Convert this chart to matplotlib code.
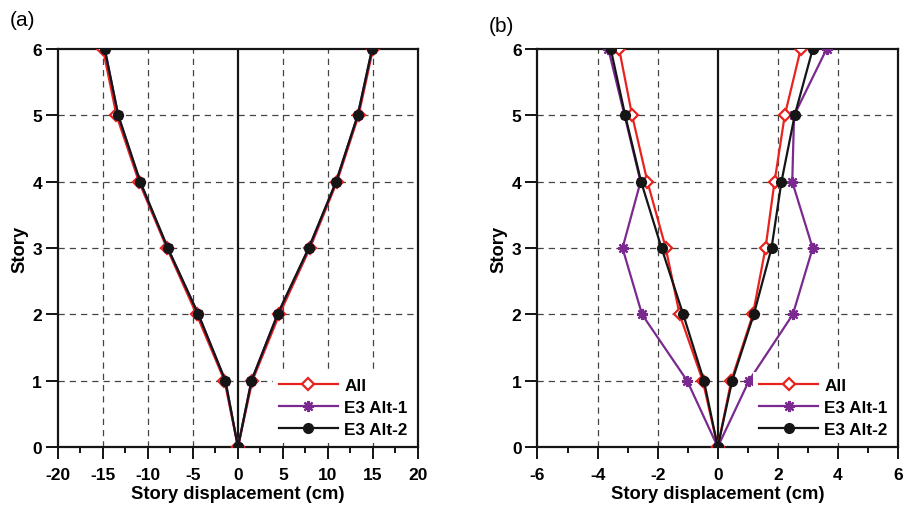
import matplotlib.pyplot as plt
from matplotlib.ticker import MultipleLocator

plt.rcParams['font.family'] = ['Liberation Sans', 'DejaVu Sans']
plt.rcParams['axes.unicode_minus'] = False

stories = [0, 1, 2, 3, 4, 5, 6]

# panel (a): negative / positive envelopes
a_all_neg = [0, -1.5, -4.6, -7.9, -11.0, -13.5, -15.0]
a_all_pos = [0, 1.6, 4.6, 8.0, 11.0, 13.4, 15.0]
a_alt1_neg = [0, -1.4, -4.4, -7.8, -10.9, -13.3, -14.8]
a_alt1_pos = [0, 1.5, 4.4, 7.9, 10.9, 13.3, 14.9]
a_alt2_neg = [0, -1.4, -4.4, -7.8, -10.85, -13.3, -14.8]
a_alt2_pos = [0, 1.5, 4.4, 7.85, 10.9, 13.3, 14.9]

# panel (b)
b_all_neg = [0, -0.5, -1.27, -1.73, -2.34, -2.85, -3.28]
b_all_pos = [0, 0.45, 1.17, 1.59, 1.89, 2.23, 2.76]
b_alt1_neg = [0, -1.02, -2.52, -3.17, -2.57, -3.1, -3.64]
b_alt1_pos = [0, 1.04, 2.5, 3.16, 2.48, 2.54, 3.62]
b_alt2_neg = [0, -0.46, -1.15, -1.87, -2.55, -3.08, -3.56]
b_alt2_pos = [0, 0.48, 1.2, 1.79, 2.12, 2.56, 3.16]

labels = ['All', 'E3 Alt-1', 'E3 Alt-2']
red = '#e8231f'
purple = '#7a2a8e'
black = '#151515'

styles = [
    dict(color=red, marker='D', mfc='white', mec=red, ms=6, mew=1.6, lw=1.6),
    dict(color=purple, marker=(8, 2, 0), mec=purple, ms=8, mew=1.6, lw=1.6),
    dict(color=black, marker='o', mfc=black, mec=black, ms=7, lw=1.6),
]

fig = plt.figure(figsize=(9.09, 5.10), dpi=100)
ax1 = fig.add_axes([0.0638, 0.1216, 0.396, 0.780])
ax2 = fig.add_axes([0.5913, 0.1216, 0.3966, 0.780])


def draw(ax, data, xlim, major, minor, grid_x, tag, tag_y):
    ax.set_xlim(*xlim)
    ax.set_ylim(0, 6)
    for gx in grid_x:
        ax.axvline(gx, color='#444444', lw=0.9, ls=(0, (5, 4)), zorder=0)
    for gy in [1, 2, 3, 4, 5]:
        ax.axhline(gy, color='#444444', lw=0.9, ls=(0, (5, 4)), zorder=0)
    ax.axvline(0, color=black, lw=1.6, zorder=1)
    for (neg, pos), lab, st in zip(data, labels, styles):
        ax.plot(neg, stories, label=lab, zorder=3, **st)
        ax.plot(pos, stories, zorder=3, **st)
    ax.xaxis.set_major_locator(MultipleLocator(major))
    ax.xaxis.set_minor_locator(MultipleLocator(minor))
    ax.yaxis.set_major_locator(MultipleLocator(1))
    ax.tick_params(axis='both', which='major', direction='out', length=8.5, width=1.3,
                   labelsize=12.5, pad=3)
    ax.tick_params(axis='x', which='major', pad=6)
    ax.tick_params(axis='x', which='minor', direction='out', length=4, width=1.3)
    for lbl in ax.get_xticklabels() + ax.get_yticklabels():
        lbl.set_fontweight('bold')
    for sp in ax.spines.values():
        sp.set_linewidth(1.6)
        sp.set_color(black)
    ax.set_xlabel('Story displacement (cm)', fontsize=13.2, fontweight='bold', labelpad=2)
    ax.set_ylabel('Story', fontsize=13.2, fontweight='bold', labelpad=3)
    leg = ax.legend(loc='lower right', frameon=True, fancybox=False, edgecolor='none',
                    facecolor='white', framealpha=1, handlelength=3.5, handletextpad=0.35,
                    labelspacing=0.4, borderaxespad=0.25, borderpad=0.35,
                    prop=dict(size=12.3, weight='bold'))
    leg.set_zorder(5)
    ax.text(-0.135, tag_y, tag, transform=ax.transAxes, fontsize=15, ha='left', va='bottom')


draw(ax1, [(a_all_neg, a_all_pos), (a_alt1_neg, a_alt1_pos), (a_alt2_neg, a_alt2_pos)],
     (-20, 20), 5, 2.5, [-15, -10, -5, 5, 10, 15], '(a)', 1.05)
draw(ax2, [(b_all_neg, b_all_pos), (b_alt1_neg, b_alt1_pos), (b_alt2_neg, b_alt2_pos)],
     (-6, 6), 2, 1, [-4, -2, 2, 4], '(b)', 1.035)

fig.savefig('out.png', dpi=100)
